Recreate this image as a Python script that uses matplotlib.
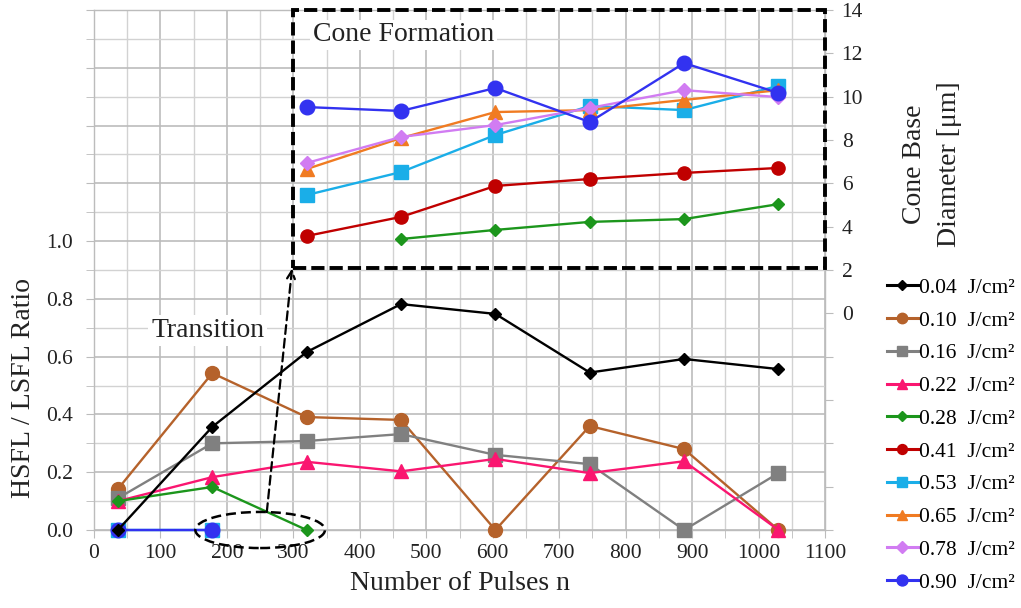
import matplotlib
matplotlib.use("Agg")
import matplotlib.pyplot as plt
import numpy as np
from matplotlib.patches import Rectangle, Ellipse
from matplotlib.lines import Line2D

plt.rcParams['font.family'] = ['Liberation Serif', 'DejaVu Serif']

# Number of pulses
pulses = [36, 178, 320, 462, 604, 746, 888, 1030]

# HSFL / LSFL ratio (left axis)
ratio_004 = [0.0, 0.357, 0.616, 0.782, 0.748, 0.545, 0.592, 0.557]
ratio_010 = [0.142, 0.543, 0.391, 0.381, 0.0, 0.36, 0.28, 0.0]
ratio_016 = [0.11, 0.30, 0.308, 0.332, 0.26, 0.228, 0.0, 0.197]
ratio_022 = [0.10, 0.183, 0.236, 0.203, 0.246, 0.197, 0.238, 0.0]
ratio_028 = [0.10, 0.149, 0.0]
ratio_053 = [0.0, 0.0]
ratio_090 = [0.0, 0.0]

# Cone base diameter in µm (right axis)
cone_pulses = [320, 462, 604, 746, 888, 1030]
cone_028 = [3.43, 3.85, 4.22, 4.35, 5.04]
cone_041 = [3.57, 4.45, 5.88, 6.20, 6.48, 6.71]
cone_053 = [5.46, 6.52, 8.23, 9.57, 9.38, 10.50]
cone_065 = [6.66, 8.09, 9.29, 9.38, 9.85, 10.30]
cone_078 = [6.94, 8.14, 8.69, 9.48, 10.30, 9.98]
cone_090 = [9.52, 9.34, 10.40, 8.83, 11.55, 10.17]

fluences = ["0.04", "0.10", "0.16", "0.22", "0.28", "0.41", "0.53", "0.65", "0.78", "0.90"]

styles = {
    "0.04": dict(color="#000000", marker="D", ms=6.5),
    "0.10": dict(color="#b5622b", marker="o", ms=10),
    "0.16": dict(color="#808080", marker="s", ms=10),
    "0.22": dict(color="#fa1670", marker="^", ms=9.5),
    "0.28": dict(color="#1c961c", marker="D", ms=6.5),
    "0.41": dict(color="#c00000", marker="o", ms=9.5),
    "0.53": dict(color="#1aaee8", marker="s", ms=10),
    "0.65": dict(color="#f07b22", marker="^", ms=9.5),
    "0.78": dict(color="#d17cf2", marker="D", ms=7.5),
    "0.90": dict(color="#3232f0", marker="o", ms=10.5),
}

W, H = 1021, 608
fig = plt.figure(figsize=(W / 100, H / 100), dpi=100)
ax = fig.add_axes([94 / W, (H - 530) / H, (825 - 94) / W, 520 / H])
ax2 = ax.twinx()

grid_major = "#bcbcbc"
grid_minor = "#d2d2d2"
text_col = "#222222"

# Left axis and grid
ax.set_xlim(0, 1100)
ax.set_ylim(0, 1.8)
ax.set_xticks(np.arange(0, 1101, 100))
ax.set_xticks(np.arange(50, 1100, 100), minor=True)
ax.set_yticks(np.arange(0, 1.81, 0.2))
ax.set_yticks(np.arange(0.1, 1.8, 0.2), minor=True)
ax.set_yticklabels([f"{v:.1f}" if v < 1.05 else "" for v in np.arange(0, 1.81, 0.2)])
ax.grid(True, which="major", color=grid_major, lw=1.2)
ax.grid(True, which="minor", color=grid_minor, lw=1.0)
ax.set_axisbelow(True)
ax.tick_params(which="both", direction="out", length=6, color=grid_major,
               labelsize=15.5, labelcolor=text_col)
ax.tick_params(axis="y", pad=9)
ax.tick_params(axis="x", pad=4)
for s in ax.spines.values():
    s.set_color(grid_major)
    s.set_linewidth(1.0)

# Right axis
ax2.set_ylim(-10, 14)
ax2.set_yticks(np.arange(-10, 14.1, 2))
ax2.set_yticklabels([f"{int(v)}" if v >= 0 else "" for v in np.arange(-10, 14.1, 2)])
ax2.tick_params(direction="out", length=6, color=grid_major, labelsize=15.5,
                labelcolor=text_col, pad=6)
for s in ax2.spines.values():
    s.set_visible(False)

lw = 1.7
def draw(a, x, y, key, z=3):
    st = styles[key]
    return a.plot(x, y, color=st["color"], marker=st["marker"], ms=st["ms"],
                  mec=st["color"], lw=lw, clip_on=False, zorder=z)[0]

draw(ax, pulses, ratio_004, "0.04", 6)
draw(ax, pulses, ratio_010, "0.10", 3)
draw(ax, pulses, ratio_016, "0.16", 4)
draw(ax, pulses, ratio_022, "0.22", 5)
draw(ax, pulses[:3], ratio_028, "0.28", 5)
draw(ax, pulses[:2], ratio_053, "0.53", 4)
draw(ax, pulses[:2], ratio_090, "0.90", 5)

draw(ax2, cone_pulses[1:], cone_028, "0.28")
draw(ax2, cone_pulses, cone_041, "0.41")
draw(ax2, cone_pulses, cone_053, "0.53")
draw(ax2, cone_pulses, cone_065, "0.65")
draw(ax2, cone_pulses, cone_078, "0.78")
draw(ax2, cone_pulses, cone_090, "0.90")

# Cone formation region
box = Rectangle((300, 2.1), 800, 11.9, fill=False, ec="black", lw=2.8,
                ls=(0, (3.4, 1.3)), clip_on=False, zorder=10)
ax2.add_patch(box)
ax2.text(466, 12.85, "Cone Formation", fontsize=20, ha="center", va="center",
         color=text_col, zorder=9,
         bbox=dict(facecolor="white", edgecolor="none", pad=2))

# Transition marker
ell = Ellipse((250, 0.0), 195, 0.125, fill=False, ec="black", lw=1.8,
              ls=(0, (4, 2)), clip_on=False, zorder=8)
ax.add_patch(ell)
ax.annotate("", xy=(298, 0.905), xytext=(260, 0.062),
            arrowprops=dict(arrowstyle="->", lw=1.6, ls=(0, (4, 2.2)),
                            color="black", mutation_scale=14,
                            shrinkA=0, shrinkB=0), zorder=8)
ax.text(171, 0.69, "Transition", fontsize=20, ha="center", va="center",
        color=text_col, zorder=7,
        bbox=dict(facecolor="white", edgecolor="none", pad=2))

# Axis labels
ax.set_xlabel("Number of Pulses n", fontsize=20, color=text_col, labelpad=6)
fig.text(24 / W, 1 - 388 / H, "HSFL / LSFL Ratio", rotation=90, fontsize=20,
         ha="center", va="center", color=text_col)
fig.text(932 / W, 1 - 164 / H, "Cone Base\nDiameter [μm]", rotation=90,
         fontsize=20, ha="center", va="center", color=text_col, linespacing=1.5)

# Legend
handles = [Line2D([], [], color=styles[k]["color"], marker=styles[k]["marker"],
                  ms=styles[k]["ms"] * 0.75, lw=2.2) for k in fluences]
labels = [f"{k}  J/cm²" for k in fluences]
fig.legend(handles, labels, loc="upper left", bbox_to_anchor=(876 / W, 1 - 267 / H),
           frameon=False, fontsize=15.5, handlelength=1.45, handletextpad=0.05,
           labelspacing=0.59, borderpad=0, markerfirst=True)

fig.savefig("out.png", dpi=100, facecolor="white")
